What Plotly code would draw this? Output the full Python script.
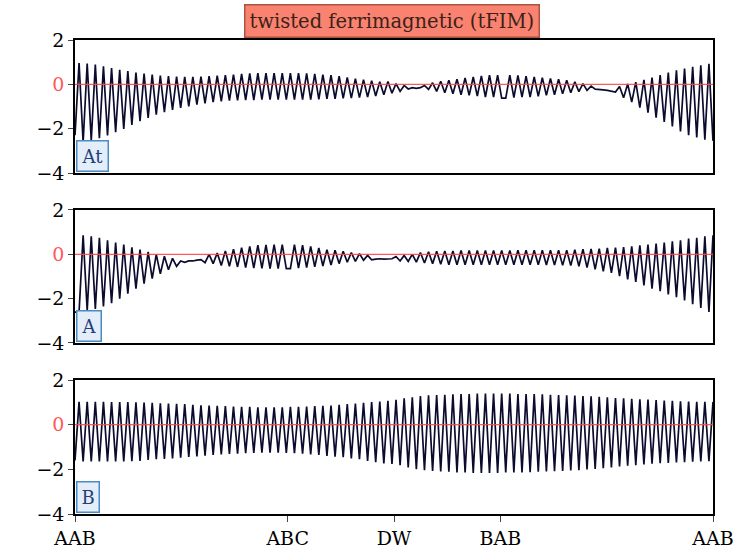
import plotly.graph_objects as go
from plotly.subplots import make_subplots

# site labels along the path
tick_labels = ["AAB", "ABC", "DW", "BAB", "AAB"]
panel_names = ["At", "A", "B"]
title_text = "twisted ferrimagnetic (tFIM)"

# values, one per site (158 sites)
at_vals = [
    -2.30, 0.96, -2.61, 0.94, -2.53, 0.89, -2.43, 0.81, -2.31, 0.74,
    -2.16, 0.66, -2.01, 0.60, -1.83, 0.53, -1.66, 0.48, -1.51, 0.44,
    -1.37, 0.40, -1.25, 0.37, -1.15, 0.35, -1.06, 0.34, -1.00, 0.34,
    -0.92, 0.35, -0.86, 0.37, -0.80, 0.39, -0.77, 0.42, -0.74, 0.44,
    -0.72, 0.47, -0.71, 0.49, -0.71, 0.50, -0.69, 0.51, -0.69, 0.51,
    -0.69, 0.51, -0.69, 0.51, -0.69, 0.50, -0.69, 0.49, -0.69, 0.47,
    -0.68, 0.44, -0.66, 0.41, -0.65, 0.37, -0.63, 0.31, -0.62, 0.26,
    -0.60, 0.21, -0.57, 0.16, -0.53, 0.12, -0.47, 0.13, -0.40, 0.03,
    -0.32, -0.05, -0.21, -0.15, -0.18, -0.15, -0.05, -0.23, 0.07, -0.32,
    0.14, -0.38, 0.18, -0.42, 0.23, -0.47, 0.29, -0.50, 0.33, -0.53,
    0.38, -0.57, 0.41, -0.57, 0.41, -0.62, -0.62, 0.41, -0.60, 0.40,
    -0.58, 0.37, -0.57, 0.34, -0.54, 0.30, -0.50, 0.26, -0.47, 0.23,
    -0.43, 0.18, -0.38, 0.11, -0.33, 0.03, -0.27, -0.08, -0.22, -0.22,
    -0.25, -0.27, -0.30, -0.35, -0.10, -0.60, 0.02, -0.80, 0.10, -1.05,
    0.20, -1.28, 0.30, -1.50, 0.42, -1.70, 0.53, -1.90, 0.63, -2.12,
    0.71, -2.30, 0.79, -2.40, 0.86, -2.50, 0.93, -2.55,
]

a_vals = [
    -2.61, -2.61, 0.86, -2.53, 0.81, -2.46, 0.74, -2.35, 0.63, -2.20,
    0.53, -2.00, 0.44, -1.78, 0.32, -1.55, 0.21, -1.32, 0.11, -1.10,
    0.00, -0.88, -0.09, -0.70, -0.18, -0.54, -0.30, -0.36, -0.30, -0.30,
    -0.26, -0.24, -0.38, 0.00, -0.42, 0.06, -0.50, 0.15, -0.54, 0.23,
    -0.57, 0.30, -0.60, 0.36, -0.62, 0.41, -0.63, 0.42, -0.65, 0.44,
    -0.65, 0.44, -0.65, -0.65, 0.44, -0.62, 0.41, -0.60, 0.36, -0.57,
    0.29, -0.53, 0.21, -0.48, 0.18, -0.42, 0.14, -0.36, 0.08, -0.32,
    0.03, -0.27, -0.05, -0.25, -0.22, -0.20, -0.22, -0.22, -0.20, -0.10,
    -0.30, -0.05, -0.32, 0.00, -0.35, 0.08, -0.39, 0.11, -0.42, 0.14,
    -0.45, 0.15, -0.47, 0.15, -0.47, 0.17, -0.47, 0.17, -0.47, 0.17,
    -0.47, 0.17, -0.47, 0.17, -0.47, 0.17, -0.47, 0.17, -0.47, 0.18,
    -0.47, 0.18, -0.47, 0.18, -0.47, 0.18, -0.48, 0.18, -0.48, 0.18,
    -0.50, 0.18, -0.51, 0.21, -0.54, 0.23, -0.60, 0.24, -0.68, 0.26,
    -0.77, 0.29, -0.84, 0.30, -0.98, 0.33, -1.13, 0.36, -1.25, 0.41,
    -1.40, 0.44, -1.55, 0.48, -1.66, 0.53, -1.81, 0.59, -1.93, 0.63,
    -2.08, 0.71, -2.25, 0.75, -2.42, 0.81, -2.60, 0.86,
]

b_vals = [
    -1.60, 1.02, -1.65, 1.02, -1.65, 1.02, -1.65, 1.02, -1.65, 1.01,
    -1.65, 1.01, -1.65, 1.01, -1.63, 1.00, -1.62, 0.99, -1.58, 0.98,
    -1.55, 0.96, -1.54, 0.95, -1.51, 0.935, -1.48, 0.92, -1.45, 0.89,
    -1.42, 0.87, -1.39, 0.86, -1.36, 0.84, -1.33, 0.83, -1.31, 0.81,
    -1.30, 0.80, -1.28, 0.80, -1.27, 0.78, -1.25, 0.78, -1.25, 0.78,
    -1.25, 0.78, -1.27, 0.80, -1.28, 0.80, -1.30, 0.81, -1.33, 0.83,
    -1.36, 0.84, -1.40, 0.86, -1.43, 0.89, -1.46, 0.92, -1.51, 0.95,
    -1.55, 0.98, -1.62, 1.01, -1.68, 1.04, -1.74, 1.07, -1.76, 1.11,
    -1.82, 1.18, -1.92, 1.22, -1.99, 1.28, -2.04, 1.31, -2.07, 1.33,
    -2.10, 1.34, -2.11, 1.36, -2.14, 1.37, -2.14, 1.37, -2.16, 1.39,
    -2.16, 1.39, -2.16, 1.39, -2.16, 1.39, -2.14, 1.39, -2.14, 1.37,
    -2.14, 1.37, -2.13, 1.37, -2.11, 1.36, -2.10, 1.34, -2.08, 1.33,
    -2.07, 1.31, -2.05, 1.30, -2.04, 1.28, -2.00, 1.27, -1.98, 1.25,
    -1.95, 1.22, -1.92, 1.19, -1.87, 1.18, -1.84, 1.16, -1.81, 1.14,
    -1.78, 1.13, -1.75, 1.10, -1.72, 1.08, -1.71, 1.07, -1.69, 1.05,
    -1.68, 1.04, -1.66, 1.02, -1.65, 1.02, -1.63, 1.02,
]

series = [at_vals, a_vals, b_vals]
n_last = len(at_vals) - 1
sites = list(range(len(at_vals)))

serif = "DejaVu Serif"
line_col = "#0b0b2e"
zero_col = "rgba(255,70,70,0.9)"

fig = make_subplots(rows=3, cols=1, shared_xaxes=True, vertical_spacing=0.0)

for r, vals in enumerate(series, start=1):
    fig.add_trace(go.Scatter(x=sites, y=vals, mode="lines",
                             line=dict(color=line_col, width=1.7),
                             showlegend=False, hoverinfo="skip"),
                  row=r, col=1)
    fig.add_hline(y=0, line=dict(color=zero_col, width=1.3),
                  layer="above", row=r, col=1)

# panel positions (paper fractions)
domains = [[0.7194, 1.0], [0.3608, 0.6414], [0.0, 0.2827]]
tickpos = [0, n_last / 3, n_last / 2, 2 * n_last / 3, n_last]

for r in range(1, 4):
    fig.update_yaxes(domain=domains[r - 1], range=[-4, 2], automargin=False,
                     tickvals=[2, 0, -2, -4],
                     ticktext=["2", '<span style="color:#ff5a5a">0</span>',
                               "\u22122", "\u22124"],
                     ticks="outside", ticklen=5, tickwidth=1.3,
                     showline=True, linecolor="black", linewidth=1.6,
                     mirror=True, showgrid=False, zeroline=False,
                     tickfont=dict(family=serif, size=19, color="black"),
                     row=r, col=1)
    fig.update_xaxes(range=[0, n_last], automargin=False, showline=True,
                     linecolor="black", linewidth=1.6, mirror=True,
                     showgrid=False, zeroline=False, tickvals=tickpos,
                     ticktext=tick_labels,
                     ticks="outside" if r == 3 else "", ticklen=6,
                     tickwidth=1.3, showticklabels=(r == 3),
                     tickfont=dict(family=serif, size=19, color="black"),
                     row=r, col=1)

# small boxed panel names in the lower-left corners
for r, name in enumerate(panel_names, start=1):
    ax = "" if r == 1 else str(r)
    fig.add_annotation(text=name, xref="x%s domain" % ax, yref="y%s domain" % ax,
                       x=0.002, y=0.004, xanchor="left", yanchor="bottom",
                       showarrow=False, bgcolor="#e4eef8", bordercolor="#4a8bc4",
                       borderwidth=1.5, borderpad=4,
                       font=dict(family=serif, size=18, color="#23407a"))

# salmon title box
fig.add_annotation(text=title_text, xref="paper", yref="paper", x=0.497, y=1.0,
                   xanchor="center", yanchor="bottom", yshift=2, showarrow=False,
                   bgcolor="#fa8270", bordercolor="#a9543f", borderwidth=1.5,
                   borderpad=4, font=dict(family=serif, size=19.5, color="#3a2218"))

fig.update_layout(width=747, height=560, plot_bgcolor="white",
                  paper_bgcolor="white",
                  margin=dict(l=75, r=34, t=40, b=46, autoexpand=False))

# page has a default body margin; drop it so the figure fills the window
fig.write_html("out.html", config={"displayModeBar": False},
               post_script="document.body.style.margin = '0';")
